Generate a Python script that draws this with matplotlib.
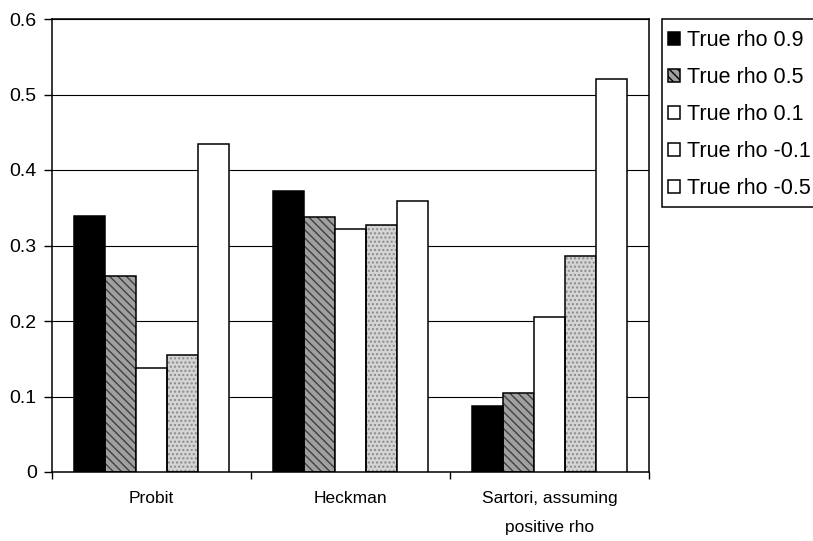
import numpy as np
import matplotlib
matplotlib.use("Agg")
import matplotlib.pyplot as plt
from matplotlib.patches import Patch, Rectangle

plt.rcParams['font.family'] = ['Liberation Sans', 'DejaVu Sans']

categories = ["Probit", "Heckman", "Sartori, assuming\npositive rho"]
series_labels = ["True rho 0.9", "True rho 0.5", "True rho 0.1", "True rho -0.1", "True rho -0.5"]
rho_09 = [0.339, 0.372, 0.087]
rho_05 = [0.259, 0.338, 0.105]
rho_01 = [0.138, 0.322, 0.205]
rho_m01 = [0.155, 0.327, 0.286]
rho_m05 = [0.435, 0.359, 0.521]
yticks = [0, 0.1, 0.2, 0.3, 0.4, 0.5, 0.6]
ytick_labels = ["0", "0.1", "0.2", "0.3", "0.4", "0.5", "0.6"]

series = [rho_09, rho_05, rho_01, rho_m01, rho_m05]
# (facecolor, hatch, hatch colour)
styles = [
    ("black", None, None),
    ("#a0a0a0", "\\\\\\\\", "#404040"),
    ("white", None, None),
    ("#d4d4d4", "....", "#8a8a8a"),
    ("white", None, None),
]
legend_faces = [("black", None, None), ("#a0a0a0", "\\\\\\\\", "#404040"),
                ("white", None, None), ("white", None, None), ("white", None, None)]

W, H = 813, 541
fig = plt.figure(figsize=(W/100, H/100), dpi=100)
ax = fig.add_axes([52/W, 1-472/H, (649-52)/W, (472-19)/H])

x = np.arange(len(categories))
width = 0.155
for i, (vals, (fc, hatch, hc)) in enumerate(zip(series, styles)):
    pos = x + (i - 2) * width
    if hatch:
        ax.bar(pos, vals, width, facecolor=fc, hatch=hatch, edgecolor=hc,
               linewidth=0, zorder=2)
        ax.bar(pos, vals, width, facecolor="none", edgecolor="black",
               linewidth=1.1, zorder=3)
    else:
        ax.bar(pos, vals, width, facecolor=fc, edgecolor="black",
               linewidth=1.1, zorder=3)

ax.set_xlim(-0.5, 2.5)
ax.set_ylim(0, 0.6)
ax.set_yticks(yticks)
ax.set_yticklabels(ytick_labels, fontsize=14)
ax.set_xticks(x)
ax.set_xticklabels(categories, fontsize=12.5, linespacing=2.1)
ax.set_xticks(np.arange(-0.5, 3.0, 1.0), minor=True)
ax.tick_params(axis='x', which='major', length=0, pad=14)
ax.tick_params(axis='x', which='minor', length=5, width=1.0, direction='out')
ax.tick_params(axis='y', length=5.5, width=1.0, direction='out', pad=5.5)
ax.yaxis.grid(True, color='black', linewidth=0.8, zorder=0)
ax.set_axisbelow(True)
for s in ax.spines.values():
    s.set_color('black')
    s.set_linewidth(1.1)

# legend frame (extends past the right edge as in the reference)
fig.patches.append(Rectangle((662/W, 1-207/H), 0.3, (207-19)/H,
                             transform=fig.transFigure, facecolor='white',
                             edgecolor='black', linewidth=1.1, zorder=1))

handles = []
for (fc, hatch, hc), lab in zip(legend_faces, series_labels):
    handles.append(Patch(facecolor=fc, edgecolor='black', hatch=hatch,
                         linewidth=1.1, label=lab))
leg = fig.legend(handles=handles, loc='upper left',
                 bbox_to_anchor=(662/W, 1-24/H), fontsize=15.5,
                 frameon=False,
                 handlelength=0.55, handleheight=0.55, handletextpad=0.3,
                 labelspacing=0.74, borderpad=0.3, borderaxespad=0)
leg.set_zorder(5)

fig.savefig("out.png", dpi=100)
